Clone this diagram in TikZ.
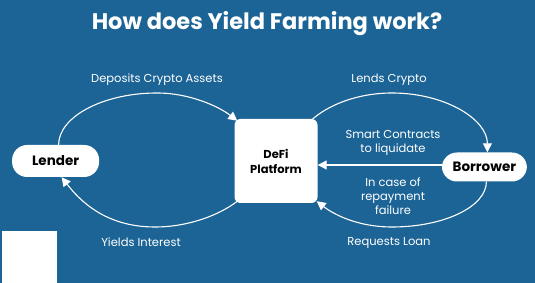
\documentclass[tikz,border=0pt]{standalone}
\usepackage{fontspec}
\setmainfont{Poppins}
\usetikzlibrary{positioning, arrows.meta}
\definecolor{bgblue}{RGB}{28,100,150}

\begin{document}
\begin{tikzpicture}[x=1pt, y=1pt, node distance=1.0cm, every node/.style={font=\fontsize{10}{12}\selectfont, align=center}, arrow/.style={-{Triangle[length=9pt, width=9pt]}, draw=white, line width=1.1pt}]
        \tikzstyle{pill} = [rectangle, fill=white, rounded corners=15pt, text=black, font=\fontsize{13.5}{15}\selectfont\bfseries]
        \tikzstyle{platformbox} = [rectangle, fill=white, rounded corners=6pt, text=black, minimum width=83pt, minimum height=84pt, font=\fontsize{11.5}{15}\selectfont\bfseries]
        \tikzstyle{arrowtext} = [text=white, font=\fontsize{11.5}{14}\selectfont]

        \fill[bgblue] (0,0) rectangle (535,283);
        \useasboundingbox (0,0) rectangle (535,283);
        \fill[white] (2,0) rectangle (57,52);

        \node[text=white, font=\fontsize{22.5}{26}\selectfont\bfseries] (title) at (267,259) {How does Yield Farming work?};

        \node[platformbox] (platform) at (276,122) {DeFi\\Platform};
        \node[pill, minimum width=87pt, minimum height=32pt, left=135pt of platform] (lender) {Lender};
        \node[pill, minimum width=85pt, minimum height=29pt, right=124pt of platform, yshift=-6pt] (borrower) {Borrower};

        % turning points of the four loops
        \coordinate (lefttop) at (157,190);
        \coordinate (leftbottom) at (155,56);
        \coordinate (righttop) at (392,190);
        \coordinate (rightbottom) at (392,56);

        \draw[arrow] ([xshift=3pt]lender.north) .. controls +(0,28) and +(-54,0) .. (lefttop)
            .. controls +(33,0) and +(-18,14) .. ([xshift=3pt, yshift=-2pt]platform.north west);
        \draw[arrow] ([xshift=3pt, yshift=2pt]platform.south west) .. controls +(-18,-14) and +(33,0) .. (leftbottom)
            .. controls +(-50,0) and +(18,-23) .. ([xshift=6pt]lender.south);
        \draw[arrow] ([xshift=-7pt, yshift=-2pt]platform.north east) .. controls +(17,16) and +(-34,0) .. (righttop)
            .. controls +(53,0) and +(0,33) .. ([xshift=3pt]borrower.north);
        \draw[arrow] ([xshift=2pt]borrower.south) .. controls +(0,-25) and +(52,0) .. (rightbottom)
            .. controls +(-33,0) and +(18,-14) .. ([xshift=-1pt, yshift=2pt]platform.south east);
        \draw[arrow] (borrower.west |- 0,118) -- (platform.east |- 0,118);

        \node[arrowtext] (deposits) at (157,203) {Deposits Crypto Assets};
        \node[arrowtext] (yields) at (141,41) {Yields Interest};
        \node[arrowtext] (lends) at (389,203) {Lends Crypto};
        \node[arrowtext] (requests) at (389,40) {Requests Loan};
        \node[arrowtext] (smart) at (393,140) {Smart Contracts\\to liquidate};
        \node[arrowtext] (failure) at (393,87) {In case of\\repayment\\failure};
    \end{tikzpicture}
\end{document}
